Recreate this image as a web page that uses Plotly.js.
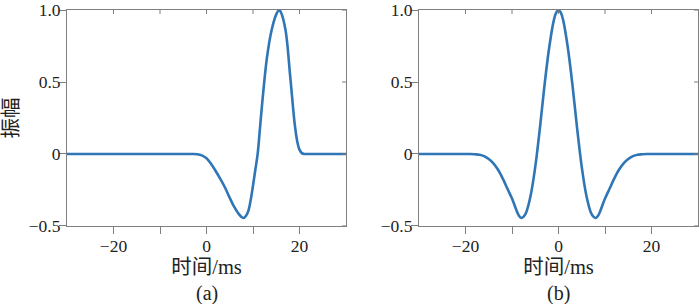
<!DOCTYPE html>
<html>
<head>
<meta charset="utf-8">
<script src="https://cdn.plot.ly/plotly-3.0.1.min.js"></script>
<style>html,body{margin:0;padding:0;background:#fff;}#chart{width:700px;height:304px;}</style>
</head>
<body>
<div id="chart"></div>
<script>
// ---- data ----
const timeA = [-30,-25,-20,-15,-10,-5,-4,-3,-2,-1,0,1,2,3,4,5,6,7,7.5,8,8.5,9,9.5,10,10.5,11,11.5,12,13,14,15,15.6,16,17,18,19,19.5,20,20.5,21,22,25,30];
const ampA  = [0,0,0,0,0,0,0,0,-0.002,-0.01,-0.03,-0.07,-0.12,-0.175,-0.235,-0.305,-0.37,-0.42,-0.437,-0.445,-0.43,-0.395,-0.32,-0.22,-0.11,0.0,0.18,0.36,0.67,0.86,0.97,1.0,0.985,0.86,0.54,0.2,0.09,0.03,0.006,0,0,0,0];
const timeB = [-30,-25,-20,-19,-18,-17,-16,-15,-14,-13,-12,-11,-10,-9,-8.5,-8,-7.5,-7,-6,-5,-4,-3,-2,-1,-0.5,0,0.5,1,2,3,4,5,6,7,7.5,8,8.5,9,10,11,12,13,14,15,16,17,18,19,20,25,30];
const ampB  = [0,0,0,0,-0.002,-0.005,-0.015,-0.035,-0.065,-0.11,-0.17,-0.24,-0.31,-0.395,-0.43,-0.445,-0.435,-0.41,-0.29,-0.09,0.18,0.48,0.74,0.93,0.982,1.0,0.982,0.93,0.74,0.48,0.18,-0.09,-0.29,-0.41,-0.435,-0.445,-0.43,-0.395,-0.31,-0.24,-0.17,-0.11,-0.065,-0.035,-0.015,-0.005,-0.002,0,0,0,0];
const xTickVals = [-20,-10,0,10,20];
const xTickText = ['\u221220','','0','','20'];
const yTickVals = [-0.5,0,0.5,1.0];
const yTickText = ['\u22120.5','0','0.5','1.0'];
const xTitle = '时间/ms';
const yTitle = '振幅';
const panelLabels = ['(a)','(b)'];

const lineColor = '#2f76b7';
const axisColor = '#7f7f7f';
const fontFam = 'Liberation Serif';
const cjkFam = 'Liberation Serif, Noto Sans CJK SC';
const fs = 17.5;
const titleFs = 20.5;

const traces = [
  {x: timeA, y: ampA, xaxis:'x', yaxis:'y', type:'scatter', mode:'lines',
   line:{color:lineColor, width:2.6, shape:'spline', smoothing:1}, hoverinfo:'skip'},
  {x: timeB, y: ampB, xaxis:'x2', yaxis:'y2', type:'scatter', mode:'lines',
   line:{color:lineColor, width:2.6, shape:'spline', smoothing:1}, hoverinfo:'skip'}
];

const dxA = [67/700, 346/700];
const dxB = [419/700, 698/700];
const dy  = [78/304, 294/304];
const xr = [-30,30];
const yr = [-0.5005,1.0005];
const plotWpx = 279, plotHpx = 216, innerTick = 4;

function mainX(domain, anchor){
  return {domain:domain, anchor:anchor, range:xr, tickmode:'array', tickvals:xTickVals, ticktext:xTickText,
    ticks:'outside', ticklen:7, tickcolor:axisColor, tickwidth:1, showline:true, linecolor:axisColor, linewidth:1,
    mirror:true, showgrid:false, zeroline:false, tickfont:{family:fontFam, size:fs, color:'#222'},
    ticklabeloverflow:'allow', ticklabelstandoff:-3,
    title:{text:xTitle, font:{family:cjkFam, size:titleFs, color:'#222'}, standoff:0}};
}
function mainY(domain, anchor, withTitle){
  const o = {domain:domain, anchor:anchor, range:yr, tickmode:'array', tickvals:yTickVals, ticktext:yTickText,
    ticks:'outside', ticklen:7, tickcolor:axisColor, tickwidth:1, showline:true, linecolor:axisColor, linewidth:1,
    mirror:true, showgrid:false, zeroline:false, tickfont:{family:fontFam, size:fs, color:'#222'},
    ticklabeloverflow:'allow', ticklabelstandoff:-5};
  if (withTitle) o.title = {text:yTitle, font:{family:cjkFam, size:titleFs, color:'#222'}, standoff:8};
  return o;
}

// inward tick marks on the top and right frame edges, placed at the tick values
const shapes = [];
[['x','y'],['x2','y2']].forEach(([xa, ya]) => {
  xTickVals.forEach(v => shapes.push({type:'line', xref:xa, yref:ya+' domain', x0:v, x1:v, y0:1, y1:1-innerTick/plotHpx,
    line:{color:axisColor, width:1}}));
  yTickVals.forEach(v => shapes.push({type:'line', xref:xa+' domain', yref:ya, x0:1, x1:1-innerTick/plotWpx, y0:v, y1:v,
    line:{color:axisColor, width:1}}));
});

const layout = {
  width:700, height:304, margin:{l:0,r:0,t:0,b:0}, paper_bgcolor:'#fff', plot_bgcolor:'#fff', showlegend:false,
  xaxis: mainX(dxA,'y'), yaxis: mainY(dy,'x',true),
  xaxis2: mainX(dxB,'y2'), yaxis2: mainY(dy,'x2',false),
  shapes: shapes,
  annotations: [
    {text:panelLabels[0], xref:'paper', yref:'paper', x:(dxA[0]+dxA[1])/2, y:11/304, xanchor:'center', yanchor:'middle',
     showarrow:false, font:{family:fontFam, size:20, color:'#222'}},
    {text:panelLabels[1], xref:'paper', yref:'paper', x:(dxB[0]+dxB[1])/2, y:11/304, xanchor:'center', yanchor:'middle',
     showarrow:false, font:{family:fontFam, size:20, color:'#222'}}
  ]
};

Plotly.newPlot('chart', traces, layout, {staticPlot:true, displayModeBar:false});
</script>
</body>
</html>
